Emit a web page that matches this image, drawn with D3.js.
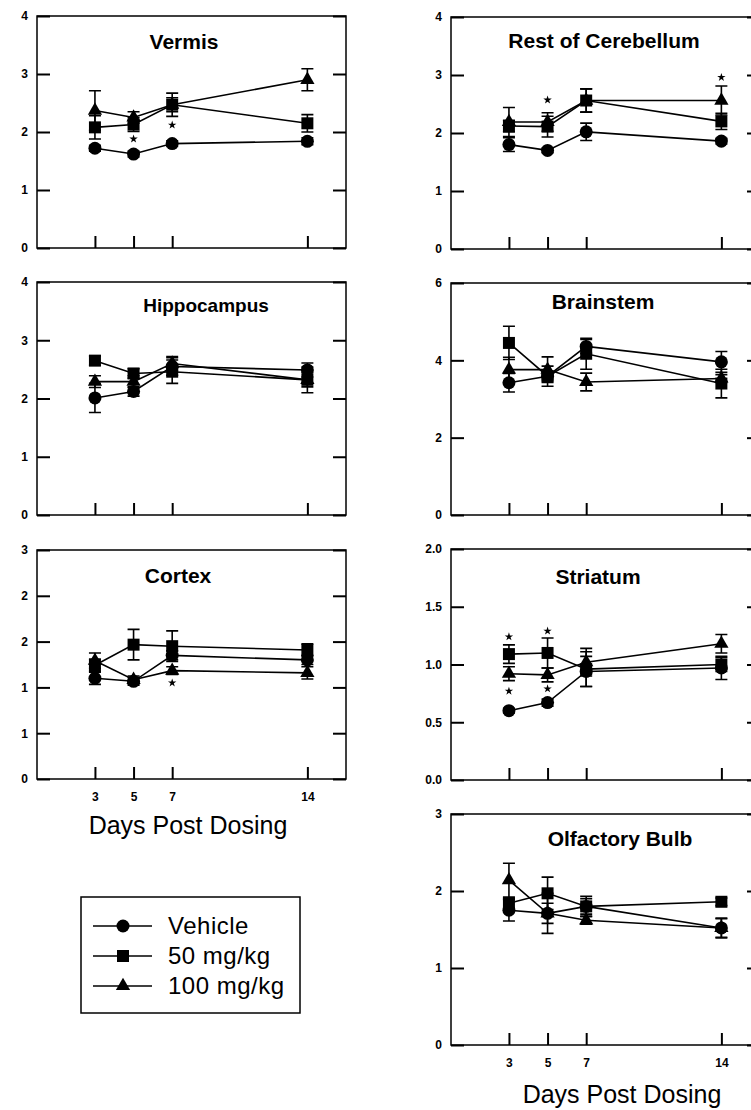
<!DOCTYPE html>
<html>
<head>
<meta charset="utf-8">
<script src="https://cdn.jsdelivr.net/npm/d3@7"></script>
<style>
  html, body { margin: 0; padding: 0; background: #fff; }
  svg { display: block; font-family: 'Liberation Sans', Arial, Helvetica, sans-serif; }
</style>
</head>
<body>
<svg id="chart" width="751" height="1110"></svg>
<script>
// x values shared by every panel
var days = [3, 5, 7, 14];
var groups = ['Vehicle', '50 mg/kg', '100 mg/kg'];

// rows: Vehicle, 50 mg/kg, 100 mg/kg
var vermisMean = [[1.72, 1.62, 1.80, 1.84], [2.08, 2.13, 2.47, 2.15], [2.37, 2.25, 2.47, 2.90]];
var vermisSem = [[0.05, 0.05, 0.05, 0.06], [0.2, 0.12, 0.12, 0.15], [0.34, 0.1, 0.2, 0.19]];
var vermisStars = [[5, 1.88], [7, 2.12]];
var vermisTicks = [0, 1, 2, 3, 4];

var cerebellumMean = [[1.80, 1.70, 2.02, 1.86], [2.12, 2.11, 2.56, 2.20], [2.19, 2.19, 2.56, 2.56]];
var cerebellumSem = [[0.12, 0.04, 0.15, 0.05], [0.1, 0.18, 0.2, 0.14], [0.25, 0.16, 0.2, 0.25]];
var cerebellumStars = [[5, 2.57], [14, 2.96]];
var cerebellumTicks = [0, 1, 2, 3, 4];

var hippocampusMean = [[2.01, 2.12, 2.55, 2.49], [2.65, 2.43, 2.46, 2.32], [2.29, 2.29, 2.60, 2.32]];
var hippocampusSem = [[0.25, 0.08, 0.15, 0.12], [0.08, 0.08, 0.2, 0.22], [0.1, 0.1, 0.12, 0.12]];
var hippocampusStars = [];
var hippocampusTicks = [0, 1, 2, 3, 4];

var brainstemMean = [[3.42, 3.59, 4.36, 3.96], [4.45, 3.59, 4.17, 3.40], [3.76, 3.76, 3.44, 3.53]];
var brainstemSem = [[0.24, 0.1, 0.18, 0.27], [0.43, 0.26, 0.4, 0.37], [0.32, 0.33, 0.23, 0.1]];
var brainstemStars = [];
var brainstemTicks = [0, 2, 4, 6];

var cortexMean = [[1.32, 1.28, 1.62, 1.56], [1.49, 1.76, 1.74, 1.69], [1.55, 1.30, 1.42, 1.39]];
var cortexSem = [[0.08, 0.05, 0.06, 0.06], [0.08, 0.2, 0.2, 0.08], [0.1, 0.05, 0.05, 0.08]];
var cortexStars = [[7, 1.26]];
var cortexTicks = [0, 0.6, 1.2, 1.8, 2.4, 3];

var striatumMean = [[0.60, 0.67, 0.94, 0.97], [1.09, 1.10, 0.96, 1.00], [0.92, 0.91, 1.02, 1.18]];
var striatumSem = [[0.02, 0.03, 0.13, 0.1], [0.08, 0.13, 0.15, 0.06], [0.06, 0.06, 0.12, 0.08]];
var striatumStars = [[3, 1.24], [3, 0.77], [5, 1.29], [5, 0.79]];
var striatumTicks = [0, 0.5, 1.0, 1.5, 2.0];

var olfactoryMean = [[1.75, 1.71, 1.80, 1.52], [1.84, 1.97, 1.80, 1.86], [2.14, 1.71, 1.62, 1.52]];
var olfactorySem = [[0.14, 0.26, 0.1, 0.12], [0.06, 0.21, 0.13, 0.05], [0.22, 0.13, 0.05, 0.13]];
var olfactoryStars = [];
var olfactoryTicks = [0, 1, 2, 3];

var svg = d3.select('#chart');

var W = 309,            // frame width of every panel
    markerArea = [133, 144, 88],
    shapes = [d3.symbolCircle, d3.symbolSquare, d3.symbolTriangle];

// panel placement, titles placed by hand like the original paste-up
var panels = [
  {title: 'Vermis', mean: vermisMean, sem: vermisSem, stars: vermisStars, ticks: vermisTicks,
    fmt: d3.format('d'), x: 37, y: 16, h: 232, tx: 184, ty: 49, fs: 21, days: false},
  {title: 'Hippocampus', mean: hippocampusMean, sem: hippocampusSem, stars: hippocampusStars, ticks: hippocampusTicks,
    fmt: d3.format('d'), x: 37, y: 282, h: 233, tx: 206, ty: 312, fs: 19, days: false},
  {title: 'Cortex', mean: cortexMean, sem: cortexSem, stars: cortexStars, ticks: cortexTicks,
    fmt: d3.format('.0f'), x: 37, y: 550, h: 229, tx: 178, ty: 583, fs: 21, days: true},
  {title: 'Rest of Cerebellum', mean: cerebellumMean, sem: cerebellumSem, stars: cerebellumStars, ticks: cerebellumTicks,
    fmt: d3.format('d'), x: 451, y: 17, h: 232, tx: 604, ty: 48, fs: 21, days: false},
  {title: 'Brainstem', mean: brainstemMean, sem: brainstemSem, stars: brainstemStars, ticks: brainstemTicks,
    fmt: d3.format('d'), x: 451, y: 283, h: 232, tx: 603, ty: 309, fs: 21, days: false},
  {title: 'Striatum', mean: striatumMean, sem: striatumSem, stars: striatumStars, ticks: striatumTicks,
    fmt: d3.format('.1f'), x: 451, y: 549, h: 231, tx: 598, ty: 584, fs: 21, days: false},
  {title: 'Olfactory Bulb', mean: olfactoryMean, sem: olfactorySem, stars: olfactoryStars, ticks: olfactoryTicks,
    fmt: d3.format('d'), x: 451, y: 814, h: 231, tx: 620, ty: 846, fs: 21, days: true}
];

function drawPanel(p) {
  var g = svg.append('g').attr('transform', 'translate(' + p.x + ',' + p.y + ')');

  var x = d3.scaleLinear().domain([0, 16]).range([0, W]);
  var y = d3.scaleLinear().domain(d3.extent(p.ticks)).range([p.h, 0]);

  // frame
  g.append('rect')
    .attr('width', W)
    .attr('height', p.h)
    .attr('fill', 'none')
    .attr('stroke', '#000')
    .attr('stroke-width', 1.5);

  // axes, ticks pointing in
  var left = g.append('g')
    .call(d3.axisLeft(y).tickValues(p.ticks).tickFormat(p.fmt).tickSize(-13).tickPadding(9));
  var right = g.append('g')
    .attr('transform', 'translate(' + W + ',0)')
    .call(d3.axisRight(y).tickValues(p.ticks).tickFormat('').tickSize(-13));
  var bottom = g.append('g')
    .attr('transform', 'translate(0,' + p.h + ')')
    .call(d3.axisBottom(x).tickValues(days).tickFormat(p.days ? d3.format('d') : '')
      .tickSize(-12).tickPadding(13));

  [left, right, bottom].forEach(function (a) {
    a.select('.domain').remove();
    a.selectAll('line').attr('stroke', '#000').attr('stroke-width', 2);
    a.selectAll('text')
      .attr('fill', '#000')
      .style('font-size', '12px')
      .style('font-weight', 'bold');
  });

  g.append('text')
    .attr('x', p.tx - p.x)
    .attr('y', p.ty - p.y)
    .attr('text-anchor', 'middle')
    .style('font-size', p.fs + 'px')
    .style('font-weight', 'bold')
    .text(p.title);

  var line = d3.line()
    .x(function (d, i) { return x(days[i]); })
    .y(function (d) { return y(d); });

  p.mean.forEach(function (row) {
    g.append('path')
      .attr('d', line(row))
      .attr('fill', 'none')
      .attr('stroke', '#000')
      .attr('stroke-width', 1.6);
  });

  // error bars
  p.mean.forEach(function (row, k) {
    row.forEach(function (m, i) {
      var cx = x(days[i]),
          lo = y(m - p.sem[k][i]),
          hi = y(m + p.sem[k][i]);
      g.append('path')
        .attr('d', 'M' + cx + ',' + lo + 'V' + hi +
          'M' + (cx - 6) + ',' + lo + 'H' + (cx + 6) +
          'M' + (cx - 6) + ',' + hi + 'H' + (cx + 6))
        .attr('fill', 'none')
        .attr('stroke', '#000')
        .attr('stroke-width', 1.6);
    });
  });

  // markers, 100 mg/kg first so the others sit on top
  [2, 1, 0].forEach(function (k) {
    g.selectAll(null)
      .data(p.mean[k])
      .enter().append('path')
        .attr('transform', function (d, i) {
          return 'translate(' + x(days[i]) + ',' + y(d) + ')';
        })
        .attr('d', d3.symbol().type(shapes[k]).size(markerArea[k]))
        .attr('fill', '#000');
  });

  g.selectAll(null)
    .data(p.stars)
    .enter().append('path')
      .attr('transform', function (d) {
        return 'translate(' + x(d[0]) + ',' + y(d[1]) + ')';
      })
      .attr('d', d3.symbol().type(d3.symbolStar).size(22))
      .attr('fill', '#000');
}

panels.forEach(drawPanel);

// axis titles
[[188, 834], [622, 1103]].forEach(function (pos) {
  svg.append('text')
    .attr('x', pos[0])
    .attr('y', pos[1])
    .attr('text-anchor', 'middle')
    .style('font-size', '25px')
    .text('Days Post Dosing');
});

// legend
var legend = svg.append('g').attr('transform', 'translate(81,897)');
legend.append('rect')
  .attr('width', 219)
  .attr('height', 116)
  .attr('fill', 'none')
  .attr('stroke', '#000')
  .attr('stroke-width', 1.5);

var item = legend.selectAll('g.item')
  .data(groups)
  .enter().append('g')
    .attr('class', 'item')
    .attr('transform', function (d, i) { return 'translate(0,' + (29 + i * 30) + ')'; });

item.append('line')
  .attr('x1', 12)
  .attr('x2', 71)
  .attr('stroke', '#000')
  .attr('stroke-width', 1.6);

item.append('path')
  .attr('transform', 'translate(42,0)')
  .attr('d', function (d, i) { return d3.symbol().type(shapes[i]).size(markerArea[i])(); })
  .attr('fill', '#000');

item.append('text')
  .attr('x', 87)
  .attr('y', 8)
  .style('font-size', '24px')
  .style('letter-spacing', '0.5px')
  .text(function (d) { return d; });
</script>
</body>
</html>
